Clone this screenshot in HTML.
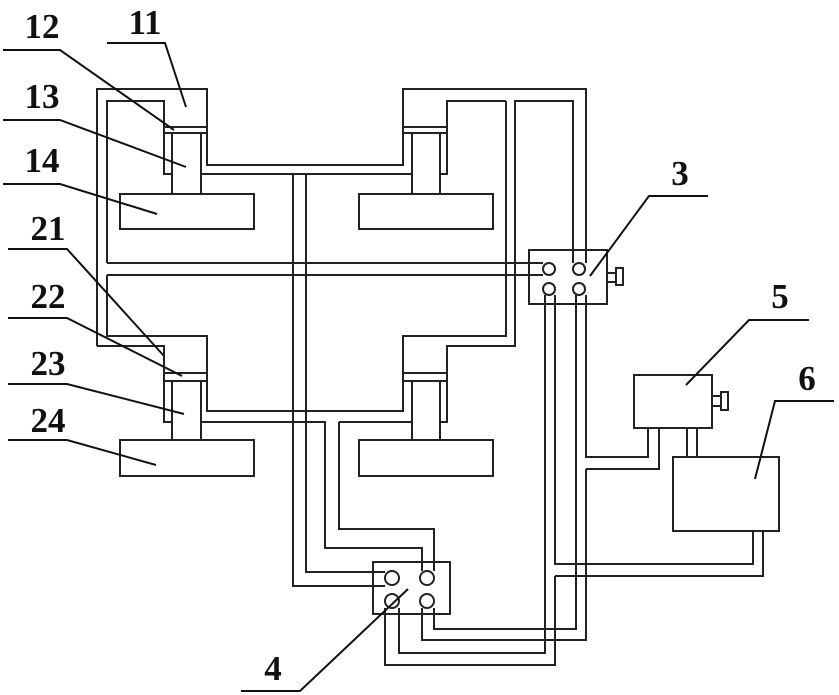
<!DOCTYPE html>
<html><head><meta charset="utf-8"><style>
html,body{margin:0;padding:0;background:#fff;}
svg{display:block}
text{font-family:"Liberation Serif",serif;font-weight:bold;font-size:35px;fill:#111;text-anchor:middle}
</style></head><body>
<svg width="839" height="695" viewBox="0 0 839 695" xmlns="http://www.w3.org/2000/svg">
<g fill="none" stroke="#222" stroke-width="2">
<!-- upper cylinders outer -->
<path d="M97,346 V89 H207 V165 H403 V89 H586 V263"/>
<path d="M573,263 V101 H515 V346 H447 V422 H440"/>
<path d="M506,101 V336 H403 V373"/>
<path d="M440,174 H447 V101 H506"/>
<path d="M107,263 V101 H164 V174 H172"/>
<path d="M201,174 H412"/>
<path d="M107,263 H543"/>
<path d="M107,275 H543"/>
<!-- pistons/rods/blocks upper -->
<rect x="164" y="127" width="43" height="6"/>
<rect x="403" y="127" width="44" height="6"/>
<rect x="172" y="133" width="29" height="61"/>
<rect x="412" y="133" width="28" height="61"/>
<rect x="120" y="194" width="134" height="35"/>
<rect x="359" y="194" width="134" height="35"/>
<!-- lower -->
<path d="M107,275 V336 H207 V373"/>
<path d="M97,346 H164 V422 H172"/>
<rect x="164" y="373" width="43" height="8"/>
<rect x="403" y="373" width="44" height="8"/>
<rect x="172" y="381" width="29" height="59"/>
<rect x="412" y="381" width="28" height="59"/>
<rect x="120" y="440" width="134" height="36"/>
<rect x="359" y="440" width="134" height="36"/>
<path d="M201,422 H325 V548 H422 V571"/>
<path d="M207,381 V411 H403 V381"/>
<path d="M339,422 H412"/>
<path d="M339,422 V529 H434 V571"/>
<path d="M293,174 V586 H385"/>
<path d="M306,174 V572 H385"/>
<!-- valve 3 -->
<rect x="529" y="250" width="78" height="54"/>
<rect x="607" y="273" width="9" height="9"/>
<rect x="616" y="268" width="7" height="17"/>
<path d="M545,295 V653 H399 V608"/>
<path d="M555,295 V564 H753 V531"/>
<path d="M555,576 V665 H385 V608"/>
<path d="M576,295 V629 H434 V608"/>
<path d="M586,295 V457 H648 V428"/>
<path d="M586,469 V640 H422 V608"/>
<path d="M586,469 H659 V428"/>
<!-- box 5 -->
<rect x="634" y="375" width="78" height="53"/>
<rect x="712" y="396" width="9" height="10"/>
<rect x="721" y="392" width="7" height="18"/>
<path d="M687,428 V457 M697,428 V457"/>
<!-- box 6 -->
<rect x="673" y="457" width="106" height="74"/>
<path d="M763,531 V576 H555"/>
<!-- valve 4 -->
<rect x="373" y="562" width="77" height="52"/>
</g>
<g fill="#fff" stroke="#222" stroke-width="2">
<circle cx="549" cy="269" r="6"/><circle cx="579" cy="269" r="6"/>
<circle cx="549" cy="289" r="6"/><circle cx="579" cy="289" r="6"/>
<circle cx="392" cy="578" r="7"/><circle cx="427" cy="578" r="7"/>
<circle cx="392" cy="601" r="7"/><circle cx="427" cy="601" r="7"/>
</g>
<!-- leaders -->
<g fill="none" stroke="#111" stroke-width="2">
<path d="M107,43 H165 L186,107"/>
<path d="M3,50 H60 L174,130"/>
<path d="M3,120 H60 L186,167"/>
<path d="M3,184 H60 L157,214"/>
<path d="M8,249 H67 L164,356"/>
<path d="M8,318 H67 L182,376"/>
<path d="M8,384 H67 L184,414"/>
<path d="M8,440 H67 L156,465"/>
<path d="M708,196 H649 L590,276"/>
<path d="M809,320 H749 L686,385"/>
<path d="M834,401 H775 L755,479"/>
<path d="M241,691 H300 L408,589"/>
</g>
<text x="145" y="34">11</text>
<text x="42" y="38">12</text>
<text x="42" y="108">13</text>
<text x="42" y="172">14</text>
<text x="48" y="240">21</text>
<text x="48" y="308">22</text>
<text x="48" y="375">23</text>
<text x="48" y="432">24</text>
<text x="680" y="185">3</text>
<text x="780" y="308">5</text>
<text x="807" y="390">6</text>
<text x="273" y="680">4</text>
</svg>
</body></html>
